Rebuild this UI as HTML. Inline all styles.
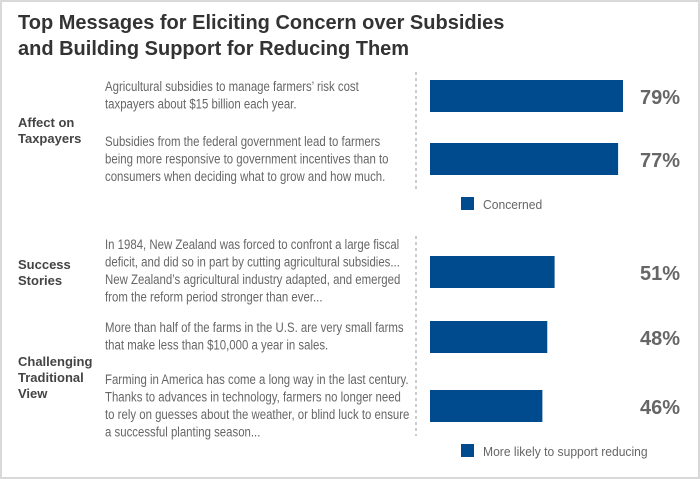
<!DOCTYPE html>
<html><head><meta charset="utf-8"><style>
body{margin:0;background:#fff}
#c{position:relative;width:700px;height:479px;overflow:hidden;font-family:"Liberation Sans",sans-serif}
svg text{font-family:"Liberation Sans Narrow","Liberation Sans",sans-serif}
</style></head><body>
<div id="c">
<svg id="s" width="700" height="479">
<rect x="1" y="1" width="698" height="477" fill="#fff" stroke="#d9d9d9" stroke-width="2"/>
<text x="18" y="29" font-size="20" font-weight="bold" fill="#333" style="font-family:'Liberation Sans',sans-serif">Top Messages for Eliciting Concern over Subsidies</text>
<text x="18" y="55" font-size="20" font-weight="bold" fill="#333" style="font-family:'Liberation Sans',sans-serif">and Building Support for Reducing Them</text>
<g fill="#444" font-size="13" font-weight="bold" style="font-family:'Liberation Sans',sans-serif">
<text x="18" y="127"><tspan x="18">Affect on</tspan><tspan x="18" dy="16">Taxpayers</tspan></text>
<text x="18" y="269"><tspan x="18">Success</tspan><tspan x="18" dy="16">Stories</tspan></text>
<text x="18" y="366"><tspan x="18">Challenging</tspan><tspan x="18" dy="16">Traditional</tspan><tspan x="18" dy="16">View</tspan></text>
</g>
<g id="msgs" fill="#666" font-size="13.5"></g>
<line x1="416" y1="72" x2="416" y2="190" stroke="#999" stroke-dasharray="3,3"/>
<line x1="416" y1="236" x2="416" y2="436" stroke="#999" stroke-dasharray="3,3"/>
<g id="bars"></g>
<rect x="461" y="197" width="13" height="13" fill="#004b8d"/>
<text class="sq" x="483" y="209" font-size="13" fill="#666">Concerned</text>
<rect x="461" y="444" width="13" height="13" fill="#004b8d"/>
<text class="sq" x="483" y="456" font-size="13" fill="#666">More likely to support reducing</text>
</svg>
</div>
<script>
const categories=["msg1","msg2","msg3","msg4","msg5"];
const values=[79,77,51,48,46];
const valueLabels=["79%","77%","51%","48%","46%"];
const messages=[
["Agricultural subsidies to manage farmers’ risk cost","taxpayers about $15 billion each year."],
["Subsidies from the federal government lead to farmers","being more responsive to government incentives than to","consumers when deciding what to grow and how much."],
["In 1984, New Zealand was forced to confront a large fiscal","deficit, and did so in part by cutting agricultural subsidies...","New Zealand’s agricultural industry adapted, and emerged","from the reform period stronger than ever..."],
["More than half of the farms in the U.S. are very small farms","that make less than $10,000 a year in sales."],
["Farming in America has come a long way in the last century.","Thanks to advances in technology, farmers no longer need","to rely on guesses about the weather, or blind luck to ensure","a successful planting season..."]];
const ns="http://www.w3.org/2000/svg";
const barTops=[80,143,256,321,390];
const msgTops=[91,146,249,332,384];
const x=v=>430+v*2.443;
const bars=document.getElementById('bars'),msgs=document.getElementById('msgs');
function squeeze(t,f){const w=t.getComputedTextLength();t.setAttribute('textLength',(w*f).toFixed(1));t.setAttribute('lengthAdjust','spacingAndGlyphs');}
values.forEach((v,i)=>{
 const r=document.createElementNS(ns,'rect');
 r.setAttribute('x',430);r.setAttribute('y',barTops[i]);r.setAttribute('width',x(v)-430);r.setAttribute('height',32);r.setAttribute('fill','#004b8d');
 
 
 bars.appendChild(r);
 const t=document.createElementNS(ns,'text');
 t.setAttribute('x',680);t.setAttribute('y',barTops[i]+24);t.setAttribute('text-anchor','end');t.setAttribute('font-size','20');t.setAttribute('font-weight','bold');t.setAttribute('fill','#666');
 t.style.fontFamily="'Liberation Sans',sans-serif";
 t.textContent=valueLabels[i];
 
 
 bars.appendChild(t);
 messages[i].forEach((line,j)=>{
  const m=document.createElementNS(ns,'text');
  m.setAttribute('x',105);m.setAttribute('y',msgTops[i]+j*17.5);
  m.textContent=line;
  
  
  msgs.appendChild(m);
  squeeze(m,0.845);
 });
});
document.querySelectorAll('.sq').forEach(t=>squeeze(t,0.93));
</script>
</body></html>
